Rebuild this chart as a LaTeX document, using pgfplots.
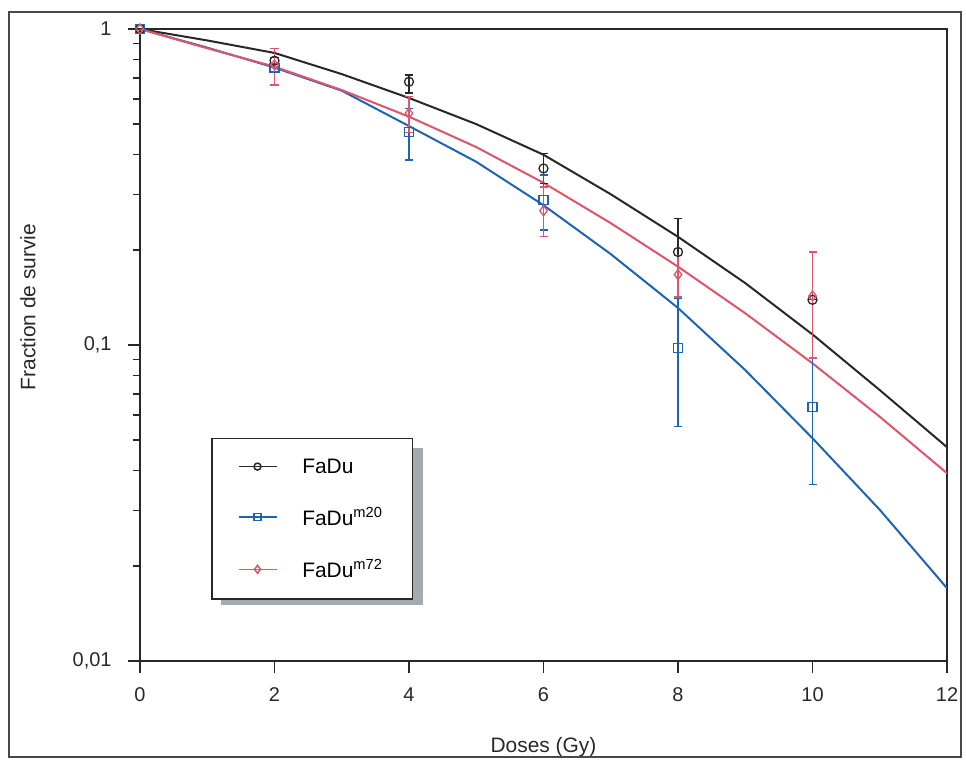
\documentclass[border=0pt]{standalone}
\usepackage{fontspec}
\setmainfont{Liberation Sans}
\usepackage{pgfplots}
\usepackage{pgfplotstable}
\pgfplotsset{compat=1.18}
\definecolor{cblack}{RGB}{40,40,40}
\definecolor{cblue}{RGB}{30,100,180}
\definecolor{cred}{RGB}{222,85,105}
\definecolor{shadowgray}{RGB}{162,170,178}

% fitted curves
\pgfplotstableread{
x y
0 1
1 0.920
2 0.840
3 0.720
4 0.605
5 0.500
6 0.400
7 0.300
8 0.220
9 0.157
10 0.108
11 0.072
12 0.0475
}\curveblack
\pgfplotstableread{
x y
0 1
1 0.873
2 0.755
3 0.638
4 0.493
5 0.380
6 0.277
7 0.194
8 0.131
9 0.0833
10 0.0507
11 0.0301
12 0.0170
}\curveblue
\pgfplotstableread{
x y
0 1
1 0.869
2 0.760
3 0.641
4 0.528
5 0.423
6 0.326
7 0.243
8 0.177
9 0.126
10 0.0875
11 0.0593
12 0.0393
}\curvered
% measured points: y, error plus, error minus
\pgfplotstableread{
x y ep em
0 1 0 0
2 0.794 0.02 0.02
4 0.681 0.034 0.054
6 0.362 0.042 0.037
8 0.197 0.055 0.055
10 0.139 0 0
}\ptsblack
\pgfplotstableread{
x y ep em
0 1 0 0
2 0.751 0.02 0.02
4 0.473 0.088 0.088
6 0.288 0.057 0.057
8 0.0977 0.0426 0.0426
10 0.0637 0.0276 0.0276
}\ptsblue
\pgfplotstableread{
x y ep em
0 1 0 0
2 0.769 0.100 0.104
4 0.541 0.07 0.07
6 0.266 0.05 0.046
8 0.167 0.025 0.025
10 0.143 0.054 0.052
}\ptsred

\begin{document}
\begin{tikzpicture}
% legend shadow (behind the legend box)
\fill[shadowgray] (81bp,56bp) rectangle (283bp,213bp);
\begin{axis}[
  scale only axis, width=807bp, height=632bp,
  xmin=0, xmax=12, ymin=0.01, ymax=1, ymode=log,
  xtick={0,2,4,6,8,10,12},
  ytick={0.01,0.1,1}, yticklabels={{0,01},{0,1},{1}},
  minor ytick={0.02,0.03,0.04,0.05,0.06,0.07,0.08,0.09,0.2,0.3,0.4,0.5,0.6,0.7,0.8,0.9},
  tick align=outside, xtick pos=bottom, ytick pos=left,
  major tick length=12bp, minor tick length=7bp,
  axis line style={line width=1.5bp, cblack},
  every tick/.style={line width=1.3bp, cblack},
  tick label style={font=\fontsize{20}{22}\selectfont, text=cblack},
  /pgf/number format/assume math mode=true,
  xticklabel style={yshift=-11bp},
  yticklabel style={xshift=-13bp},
  xlabel={Doses (Gy)}, ylabel={Fraction de survie},
  label style={font=\fontsize{21}{24}\selectfont, text=cblack},
  xlabel style={at={(axis description cs:0.5,-0.136)}, anchor=center},
  ylabel style={at={(axis description cs:-0.139,0.56)}, anchor=center},
  legend image code/.code={\draw[mark repeat=2,mark phase=2,#1] plot coordinates {(0bp,0bp) (19bp,0bp) (38bp,0bp)};},
  legend style={at={(axis description cs:0.088,0.353)}, anchor=north west,
    draw=cblack, line width=1.5bp, fill=white,
    font=\fontsize{21}{24}\selectfont,
    inner xsep=26bp, inner ysep=18bp, row sep=29bp, column sep=21bp,
    nodes={inner xsep=4bp}},
  legend cell align=left,
]
\addplot[cblack, line width=2bp, forget plot] table[x=x,y=y] {\curveblack};
\addplot[cblue, line width=2bp, forget plot] table[x=x,y=y] {\curveblue};
\addplot[cred, line width=2bp, forget plot] table[x=x,y=y] {\curvered};

\addplot[cblack, only marks, mark=o, mark size=4.5bp, line width=1.3bp, forget plot,
  error bars/.cd, y dir=both, y explicit,
  error bar style={line width=1.5bp, cblack},
  error mark options={rotate=90, mark size=4bp, line width=1.3bp, cblack}]
  table[x=x, y=y, y error plus=ep, y error minus=em] {\ptsblack};
\addplot[cblue, only marks, mark=square, mark size=4.5bp, line width=1.3bp, forget plot,
  error bars/.cd, y dir=both, y explicit,
  error bar style={line width=1.5bp, cblue},
  error mark options={rotate=90, mark size=4bp, line width=1.3bp, cblue}]
  table[x=x, y=y, y error plus=ep, y error minus=em] {\ptsblue};
\addplot[cred, only marks, mark=diamond, mark size=5bp, line width=1.3bp, forget plot,
  error bars/.cd, y dir=both, y explicit,
  error bar style={line width=1.5bp, cred},
  error mark options={rotate=90, mark size=4bp, line width=1.3bp, cred}]
  table[x=x, y=y, y error plus=ep, y error minus=em] {\ptsred};

\addlegendimage{cblack, line width=1.5bp, mark=o, mark size=3.5bp}
\addlegendentry{FaDu}
\addlegendimage{cblue, line width=1.5bp, mark=square, mark size=3.5bp}
\addlegendentry{FaDu\textsuperscript{m20}}
\addlegendimage{cred, line width=1.5bp, mark=diamond, mark size=4bp}
\addlegendentry{FaDu\textsuperscript{m72}}
\end{axis}
\draw[line width=1.2bp, cblack!85] (-131bp,-96bp) rectangle (821bp,649bp);
\pgfresetboundingbox
\useasboundingbox (-140bp,-99bp) rectangle (826bp,661bp);
\end{tikzpicture}
\end{document}
